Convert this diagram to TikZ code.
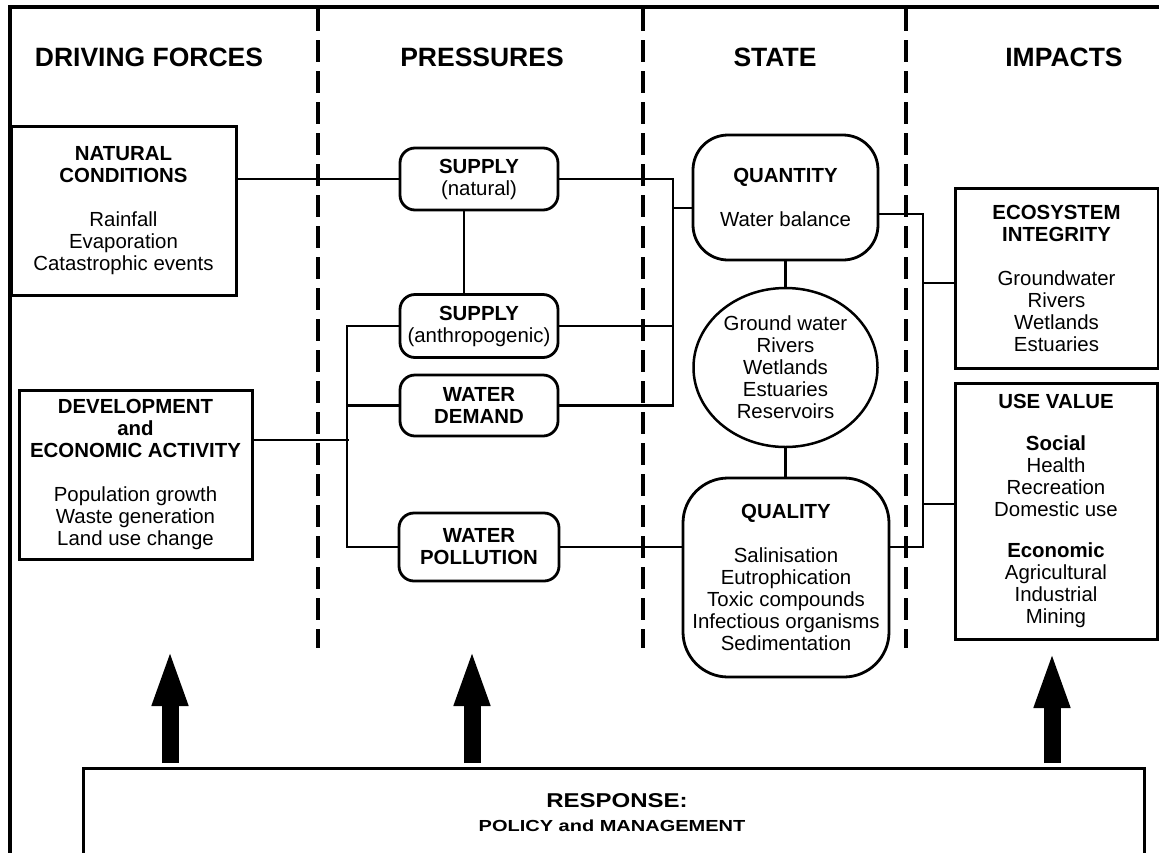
\documentclass[tikz,border=0pt]{standalone}
\usepackage{fontspec}
\setmainfont{Liberation Sans}
\usetikzlibrary{shapes.geometric,arrows.meta,calc}
\begin{document}
\begin{tikzpicture}[x=1pt,y=-1pt,
  body/.style={font=\fontsize{20.4}{22}\selectfont, align=center, inner sep=0pt},
  sqbox/.style={body, draw, line width=3pt, rectangle},
  rbox/.style={body, draw, line width=2.8pt, rectangle, rounded corners=15pt},
  conn/.style={line width=2.9pt},
  head/.style={font=\fontsize{26.5}{30}\selectfont\bfseries, inner sep=0pt},
  dashline/.style={line width=3.3pt, dash pattern=on 22pt off 9pt},
  bigarrow/.style={line width=17pt, -{Triangle[width=32pt,length=58pt]}},
  frame/.style={line width=3.3pt}
]
\clip (0,0) rectangle (1159,852);
\draw[frame] (10,900) -- (10,7) -- (1200,7);

% column separators
\draw[dashline] (318,9) -- (318,648);
\draw[dashline] (643,9) -- (643,648);
\draw[dashline] (906,9) -- (906,648);

% headers
\node[head] (hdf) at (149,57) {DRIVING FORCES};
\node[head] (hpr) at (482,57) {PRESSURES};
\node[head] (hst) at (775,57) {STATE};
\node[head] (him) at (1064,57) {IMPACTS};

% driving forces
\node[sqbox, minimum width=225pt, minimum height=169pt] (nat) at (123.5,210.5)
  {\textbf{NATURAL}\\\textbf{CONDITIONS}\\[22pt]Rainfall\\Evaporation\\Catastrophic events};
\node[sqbox, minimum width=233pt, minimum height=169pt] (dev) at (135.5,474.5)
  {\textbf{DEVELOPMENT}\\\textbf{and}\\\textbf{ECONOMIC ACTIVITY}\\[22pt]Population growth\\Waste generation\\Land use change};

% pressures
\node[rbox, minimum width=158pt, minimum height=62pt] (sn) at (479,179)
  {\textbf{SUPPLY}\\(natural)};
\node[rbox, minimum width=158pt, minimum height=63pt] (sa) at (479,326)
  {\textbf{SUPPLY}\\(anthropogenic)};
\node[rbox, minimum width=158pt, minimum height=61pt] (wd) at (479,405.5)
  {\textbf{WATER}\\\textbf{DEMAND}};
\node[rbox, minimum width=160pt, minimum height=68pt] (wp) at (479,547)
  {\textbf{WATER}\\\textbf{POLLUTION}};

% state
\node[body, draw, line width=2.8pt, rectangle, rounded corners=35pt,
  minimum width=185pt, minimum height=125pt] (qn) at (785.5,197.5)
  {\textbf{QUANTITY}\\[22pt]Water balance};
\node[body, draw, line width=2.5pt, ellipse, minimum width=184pt, minimum height=159pt] (el) at (785.5,367.5)
  {Ground water\\Rivers\\Wetlands\\Estuaries\\Reservoirs};
\node[body, draw, line width=2.8pt, rectangle, rounded corners=45pt,
  minimum width=206pt, minimum height=199pt] (ql) at (786,577.5)
  {\textbf{QUALITY}\\[22pt]Salinisation\\Eutrophication\\Toxic compounds\\Infectious organisms\\Sedimentation};

% impacts
\node[sqbox, minimum width=203pt, minimum height=180pt] (eco) at (1056.5,278)
  {\textbf{ECOSYSTEM}\\\textbf{INTEGRITY}\\[22pt]Groundwater\\Rivers\\Wetlands\\Estuaries};
\node[sqbox, minimum width=202pt, minimum height=256pt] (uv) at (1056,511)
  {\textbf{USE VALUE}\\[20pt]\textbf{Social}\\Health\\Recreation\\Domestic use\\[19pt]\textbf{Economic}\\Agricultural\\Industrial\\Mining};

% response
\node[draw, line width=3pt, rectangle, inner sep=0pt, anchor=north west,
  minimum width=1061pt, minimum height=160pt] (resp) at (82,767) {};
\node[inner sep=0pt] (resp1) at (617,801)
  {\scalebox{1.2}[1]{\fontsize{20}{22}\selectfont\bfseries RESPONSE:}};
\node[inner sep=0pt] (resp2) at (612,826)
  {\scalebox{1.25}[1]{\fontsize{16}{18}\selectfont\bfseries POLICY and MANAGEMENT}};

% junction coordinates
\coordinate (jL) at (347,400);
\coordinate (jR) at (673,300);
\coordinate (jI) at (923,400);

% connectors: driving forces -> pressures
\draw[conn] (sn.west) -- (sn.west -| nat.east);
\draw[conn] ([xshift=-15pt]sn.south) -- ([xshift=-15pt]sa.north);
\draw[conn] (sa.west) -- (sa.west -| jL) -- (jL |- wp.west) -- (wp.west);
\draw[conn] (wd.west) -- (wd.west -| jL);
\coordinate (dout) at ([yshift=34.5pt]dev.east);
\draw[conn] (dout) -- ([xshift=2pt]dout -| jL);

% pressures -> state
\draw[conn] (sn.east) -| (jR |- wd.east) -- (wd.east);
\draw[conn] (sa.east) -- (sa.east -| jR);
\coordinate (qin) at ([yshift=-10.5pt]qn.west);
\draw[conn] (qin) -- (qin -| jR);
\draw[conn] (wp.east) -- (wp.east -| ql.west);
\draw[conn] (qn.south) -- (qn.south |- el.north);
\draw[conn] (el.south) -- (el.south |- ql.north);

% state -> impacts
\coordinate (qout) at ([yshift=-16.5pt]qn.east);
\draw[conn] (qout) -| (jI |- wp.east) -- (wp.east -| ql.east);
\draw[conn] ([yshift=-5pt]eco.west) -- ([yshift=-5pt]eco.west -| jI);
\draw[conn] ([yshift=7pt]uv.west) -- ([yshift=7pt]uv.west -| jI);

% response arrows
\coordinate (a1) at (170,648);
\coordinate (a2) at (472,648);
\coordinate (a3) at (1052,650);
\draw[bigarrow] ([yshift=4pt]a1 |- resp.north) -- (a1);
\draw[bigarrow] ([yshift=4pt]a2 |- resp.north) -- (a2);
\draw[bigarrow] ([yshift=4pt]a3 |- resp.north) -- (a3);
\end{tikzpicture}
\end{document}
